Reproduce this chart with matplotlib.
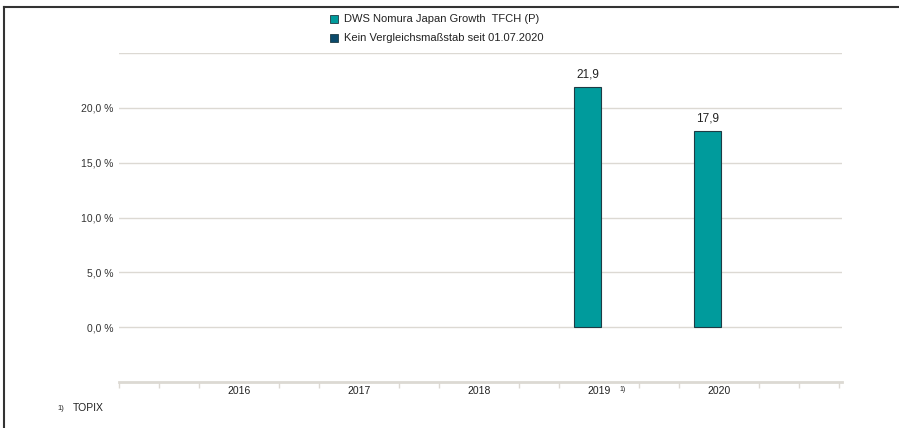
import matplotlib
matplotlib.use('Agg')
from matplotlib import pyplot as plt
from matplotlib.patches import Rectangle
from matplotlib.lines import Line2D

plt.rcParams['font.family'] = ['Liberation Sans', 'DejaVu Sans']

years      = [2016, 2017, 2018, 2019, 2020]
fund_vals  = [None, None, None, 21.9, 17.9]
bench_vals = [None, None, None, None, None]
year_labels = ['2016', '2017', '2018', '2019', '2020']
fund_name  = 'DWS Nomura Japan Growth  TFCH (P)'
bench_name = 'Kein Vergleichsmaßstab seit 01.07.2020'
yticks     = [0, 5, 10, 15, 20]
ytick_lbls = ['0,0 %', '5,0 %', '10,0 %', '15,0 %', '20,0 %']

fund_col  = '#009b9c'
bench_col = '#0b4a6b'
edge_col  = '#1e3b44'
grid_col  = '#dcd9d3'

fig = plt.figure(figsize=(8.99, 4.28), dpi=100)
ax = fig.add_axes([119/899, 1-382/428, (842-119)/899, (382-53)/428])

w = 0.225
off = 0.096
for x, v in zip(years, fund_vals):
    if v is None:
        continue
    ax.bar(x - off, v, w, color=fund_col, edgecolor=edge_col, linewidth=0.8, zorder=3)
    ax.text(x - off, v + 0.6, ('%.1f' % v).replace('.', ','), ha='center', va='bottom',
            fontsize=8.5, color='#222222', zorder=4)

ax.set_xlim(2015, 2021.025)
ax.set_ylim(-5, 25)
for g in [0, 5, 10, 15, 20, 25]:
    ax.axhline(g, color=grid_col, linewidth=1.0, zorder=1)

ax.set_yticks(yticks)
ax.set_yticklabels(ytick_lbls)
ax.tick_params(axis='y', length=0, pad=4, labelsize=7.5, colors='#333333')

ax.set_xticks(years)
ax.set_xticklabels(year_labels)
minor = [2015 + i/3 for i in range(19) if i % 3 != 0 or i in (0, 18)]
ax.set_xticks(minor, minor=True)
ax.tick_params(axis='x', which='major', length=0, pad=3, labelsize=7.5, colors='#222222')
ax.tick_params(axis='x', which='minor', length=4, width=1.0, color=grid_col)

for s in ['top', 'right', 'left']:
    ax.spines[s].set_visible(False)
ax.spines['bottom'].set_color(grid_col)
ax.spines['bottom'].set_linewidth(2.0)

# footnote marker after 2019
ax.text(2019 + 0.17, -5.35, '1)', fontsize=5, ha='left', va='top', color='#222222')

# legend
fig.patches.append(Rectangle((330/899, 1-23/428), 8/899, 8/428, transform=fig.transFigure,
                             facecolor=fund_col, edgecolor=edge_col, linewidth=0.6))
fig.patches.append(Rectangle((330/899, 1-42/428), 8/899, 8/428, transform=fig.transFigure,
                             facecolor=bench_col, edgecolor=edge_col, linewidth=0.6))
fig.text(344/899, 1-19/428, fund_name, fontsize=8, va='center', ha='left', color='#222222')
fig.text(344/899, 1-38/428, bench_name, fontsize=8, va='center', ha='left', color='#222222')

# footnote
fig.text(57/899, 1-408/428, '1)', fontsize=5.5, va='center', ha='left', color='#222222')
fig.text(73/899, 1-408/428, 'TOPIX', fontsize=7.5, va='center', ha='left', color='#222222')

# frame lines
fig.lines.append(Line2D([4/899, 1], [1-7/428, 1-7/428], transform=fig.transFigure,
                        color='#333333', linewidth=1.5))
fig.lines.append(Line2D([4/899, 4/899], [0, 1-7/428], transform=fig.transFigure,
                        color='#333333', linewidth=1.5))

fig.savefig('out.png', dpi=100)
